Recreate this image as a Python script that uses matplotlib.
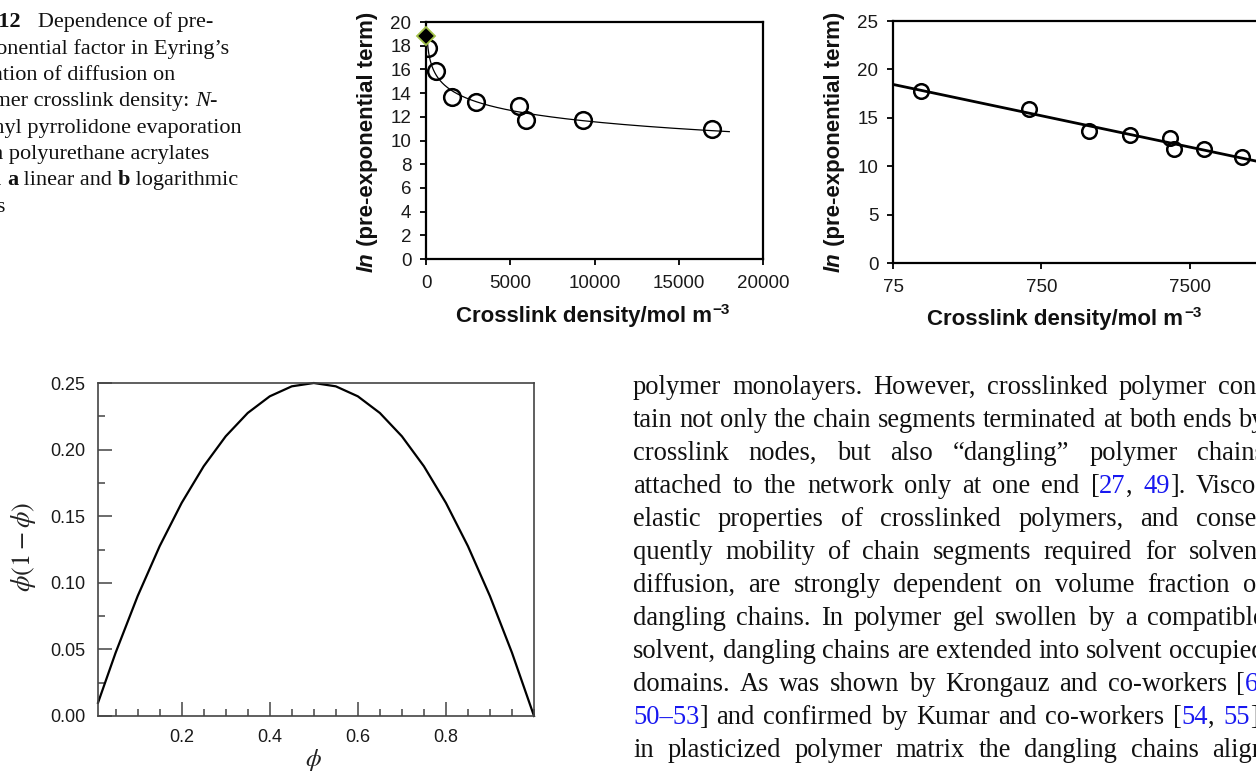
import re
import numpy as np
import matplotlib
matplotlib.use('Agg')
import matplotlib.pyplot as plt
from matplotlib.ticker import NullLocator, MultipleLocator, FormatStrFormatter

W, H = 1256, 774

# (a) and (b): ln(pre-exponential term) vs crosslink density
density = [116, 620, 1572, 2957, 5497, 5910, 9322, 16990]
ln_pre = [17.82, 15.88, 13.67, 13.26, 12.91, 11.74, 11.74, 10.98]
solvent_x = [0]
solvent_y = [18.8]
fit_range_a = [75, 18000]
fit_range_b = [75, 75000]
ticks_a_x = [0, 5000, 10000, 15000, 20000]
ticks_a_y = [0, 2, 4, 6, 8, 10, 12, 14, 16, 18, 20]
ticks_b_x = [75, 750, 7500, 75000]
ticks_b_y = [0, 5, 10, 15, 20, 25]

# bottom plot: phi(1 - phi)
phi = [0.01, 0.05, 0.10, 0.15, 0.20, 0.25, 0.30, 0.35, 0.40, 0.45, 0.50,
       0.55, 0.60, 0.65, 0.70, 0.75, 0.80, 0.85, 0.90, 0.95, 1.00]
phi_term = [0.0099, 0.0475, 0.090, 0.1275, 0.160, 0.1875, 0.210, 0.2275, 0.240, 0.2475, 0.250,
            0.2475, 0.240, 0.2275, 0.210, 0.1875, 0.160, 0.1275, 0.090, 0.0475, 0.0]

# caption (cut off on the left by the page crop); styles: n normal, b bold, i italic
caption_lines = [
    [('Fig. 12', 'b'), ('   Dependence of pre-', 'n')],
    [('exponential factor in Eyring\u2019s', 'n')],
    [('equation of diffusion on', 'n')],
    [('polymer crosslink density: ', 'n'), ('N', 'i'), ('-', 'n')],
    [('vinyl pyrrolidone evaporation', 'n')],
    [('from polyurethane acrylates', 'n')],
    [('in ', 'n'), ('a', 'b'), (' linear and ', 'n'), ('b', 'b'), (' logarithmic', 'n')],
    [('axes', 'n')],
]
caption_right = [213, 229, 175, 217, 242, 209, 238, 6]

# body text, {..} marks blue reference numbers
body_lines = [
    'polymer monolayers. However, crosslinked polymer con-',
    'tain not only the chain segments terminated at both ends by',
    'crosslink nodes, but also \u201cdangling\u201d polymer chains',
    'attached to the network only at one end [{27}, {49}]. Visco-',
    'elastic properties of crosslinked polymers, and conse-',
    'quently mobility of chain segments required for solvent',
    'diffusion, are strongly dependent on volume fraction of',
    'dangling chains. In polymer gel swollen by a compatible',
    'solvent, dangling chains are extended into solvent occupied',
    'domains. As was shown by Krongauz and co-workers [{6},',
    '{50\u201353}] and confirmed by Kumar and co-workers [{54}, {55}],',
    'in plasticized polymer matrix the dangling chains align',
]

fig = plt.figure(figsize=(W / 100, H / 100), dpi=100)
fig.patch.set_facecolor('white')
rend = fig.canvas.get_renderer()


def fx(x):
    return x / W


def fy(y):
    return 1 - y / H


def add_ax(l, t, r, b):
    return fig.add_axes([l / W, 1 - b / H, (r - l) / W, (b - t) / H])


def adv(s, kw):
    # advance width (px) of a string, spaces included
    t1 = fig.text(0, 0, '|' + s + '|', **kw)
    t2 = fig.text(0, 0, '||', **kw)
    w = t1.get_window_extent(rend).width - t2.get_window_extent(rend).width
    t1.remove()
    t2.remove()
    return w


def put(x, y, segs, rot=0):
    for s, kw in segs:
        fig.text(fx(x), fy(y), s, rotation=rot, rotation_mode='anchor',
                 ha='left', va='baseline', **kw)
        w = adv(s, kw)
        if rot == 0:
            x += w
        else:
            y -= w


def total(segs):
    return sum(adv(s, kw) for s, kw in segs)


serif = dict(family='Liberation Serif', size=16, color='#111111')
styles = {'n': serif, 'b': {**serif, 'weight': 'bold'}, 'i': {**serif, 'style': 'italic'}}
lab = dict(family='Liberation Sans', size=16, weight='bold', color='#111111')

# ---------- caption ----------
for i, line in enumerate(caption_lines):
    segs = [(s, styles[k]) for s, k in line]
    x0 = caption_right[i] - total(segs)
    put(x0, 27.5 + 26.3 * i, segs)

# ---------- body text (justified) ----------
L, R = 633, 1265


def body_style(size, key):
    kw = dict(family='Liberation Serif', size=size, color='#111111')
    if key == 'blue':
        kw['color'] = '#1818f0'
    return kw


def split_words(line):
    words = []
    for w in line.split(' '):
        parts = [p for p in re.split(r'(\{[^}]*\})', w) if p]
        words.append([(p[1:-1], 'blue') if p.startswith('{') else (p, 'n') for p in parts])
    return words


# font size chosen so the tightest line fits with plain word spaces
nat = []
for line in body_lines:
    words = split_words(line)
    ww = sum(adv(s, body_style(10, k)) for wd in words for s, k in wd)
    nat.append(ww + (len(words) - 1) * adv(' ', body_style(10, 'n')))
bsize = 10 * (R - L) / max(nat)

for i, line in enumerate(body_lines):
    words = [[(s, body_style(bsize, k)) for s, k in wd] for wd in split_words(line)]
    widths = [total(s) for s in words]
    gap = (R - L - sum(widths)) / (len(words) - 1)
    x = L
    y = 394 + 33.0 * i
    for segs, w in zip(words, widths):
        put(x, y, segs)
        x += w + gap

# ---------- (a) linear axes ----------
coef = np.polyfit(np.log(density), ln_pre, 1)

ax = add_ax(426, 22, 763, 259)
xa = np.linspace(fit_range_a[0], fit_range_a[1], 400)
ax.plot(xa, coef[0] * np.log(xa) + coef[1], color='black', lw=0.9, zorder=2)
ax.plot(density, ln_pre, 'o', mfc='none', mec='black', ms=12, mew=1.8, zorder=3)
ax.plot(solvent_x, solvent_y, 'D', mfc='black', mec='#a3c24a', ms=9.5, mew=1.3,
        zorder=4, clip_on=False)
ax.set_xlim(0, 20000)
ax.set_ylim(0, 20)
ax.set_xticks(ticks_a_x)
ax.set_yticks(ticks_a_y)
for sp in ax.spines.values():
    sp.set_linewidth(1.6)
    sp.set_color('black')
ax.tick_params(direction='out', length=4.5, width=1.3, color='black',
               labelsize=13.5, labelcolor='#1a1a1a', pad=6)
for t in ax.get_xticklabels() + ax.get_yticklabels():
    t.set_family('Liberation Sans')
ax.tick_params(axis='x', pad=7)

# ---------- (b) log axes ----------
axb = add_ax(893, 21, 1338, 263)
xb = np.geomspace(fit_range_b[0], fit_range_b[1], 100)
axb.plot(xb, coef[0] * np.log(xb) + coef[1], color='black', lw=2.0, zorder=2)
axb.plot(density, ln_pre, 'o', mfc='none', mec='black', ms=10.5, mew=1.8, zorder=3)
axb.set_xscale('log')
axb.set_xlim(75, 75000)
axb.set_ylim(0, 25)
axb.set_xticks(ticks_b_x)
axb.set_xticklabels([str(v) for v in ticks_b_x])
axb.xaxis.set_minor_locator(NullLocator())
axb.set_yticks(ticks_b_y)
for sp in axb.spines.values():
    sp.set_linewidth(1.6)
    sp.set_color('black')
axb.tick_params(direction='out', length=4.5, width=1.3, color='black',
                labelsize=13.5, labelcolor='#1a1a1a', pad=6)
for t in axb.get_xticklabels() + axb.get_yticklabels():
    t.set_family('Liberation Sans')
axb.tick_params(axis='x', pad=7)

# axis titles for (a) and (b)
ital_b = {**lab, 'style': 'italic'}
sup = {**lab, 'size': 11}
for cx, base_x, by in [(592.5, 373, 322), (1064, 840, 325)]:
    ysegs = [('ln', ital_b), (' (pre-exponential term)', lab)]
    put(base_x, 142 + total(ysegs) / 2, ysegs, rot=90)
    main = [('Crosslink density/mol m', lab)]
    wm = total(main)
    ws = adv('\u22123', sup)
    x0 = cx - (wm + ws) / 2
    put(x0, by, main)
    put(x0 + wm + 1, by - 8, [('\u22123', sup)])

# ---------- bottom: phi(1 - phi) ----------
axc = add_ax(98, 383, 534, 716)
axc.plot(phi, phi_term, color='black', lw=1.6, clip_on=False)
axc.set_xlim(0.01, 1.0)
axc.set_ylim(0, 0.25)
axc.xaxis.set_major_locator(MultipleLocator(0.2))
axc.xaxis.set_minor_locator(MultipleLocator(0.05))
axc.yaxis.set_major_locator(MultipleLocator(0.05))
axc.yaxis.set_minor_locator(MultipleLocator(0.025))
axc.yaxis.set_major_formatter(FormatStrFormatter('%.2f'))
axc.set_xticks([0.2, 0.4, 0.6, 0.8])
for sp in axc.spines.values():
    sp.set_linewidth(1.2)
    sp.set_color('#444444')
axc.tick_params(which='major', direction='in', length=10, width=1.1, color='#444444',
                labelsize=13, labelcolor='#1a1a1a')
axc.tick_params(which='minor', direction='in', length=5, width=1.1, color='#444444')
axc.tick_params(axis='y', which='major', pad=9)
axc.tick_params(axis='x', which='major', pad=9)
for t in axc.get_xticklabels() + axc.get_yticklabels():
    t.set_family('Liberation Sans')
axc.text(-0.170, 0.507, r'$\phi(1 - \phi)$', rotation=90, ha='center', va='center',
         transform=axc.transAxes, fontsize=19, math_fontfamily='stix', color='#222222')
axc.text(0.493, -0.132, r'$\phi$', ha='center', va='center',
         transform=axc.transAxes, fontsize=18, math_fontfamily='stix', color='#222222')

fig.savefig('out.png', dpi=100)
